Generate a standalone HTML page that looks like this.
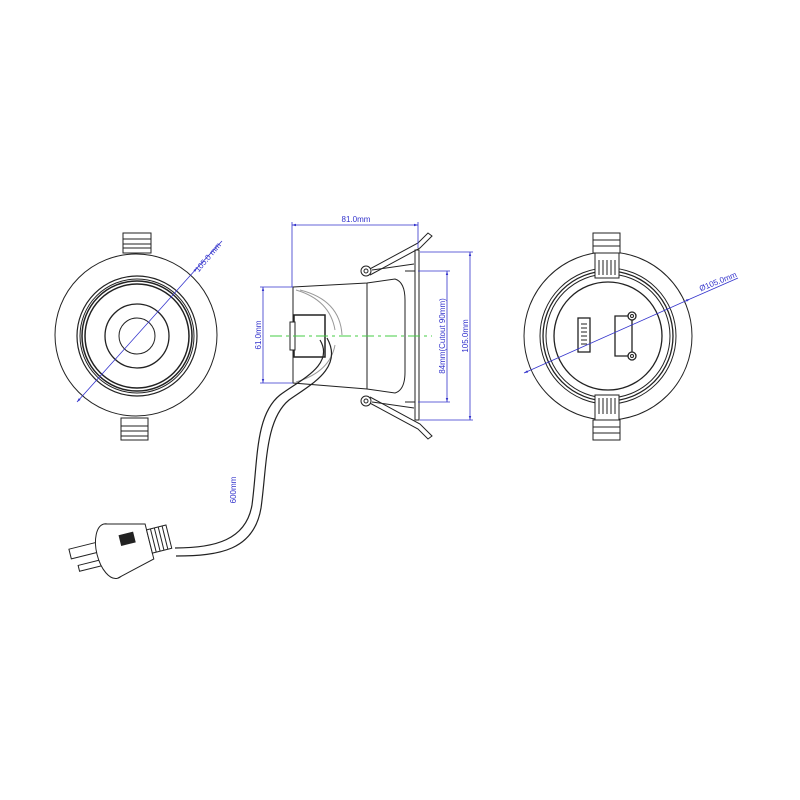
<!DOCTYPE html>
<html><head><meta charset="utf-8"><style>html,body{margin:0;padding:0;background:#fff}svg{display:block}</style></head>
<body>
<svg width="800" height="800" viewBox="0 0 800 800" xmlns="http://www.w3.org/2000/svg" font-family="Liberation Sans, sans-serif">
<defs>
<marker id="a" viewBox="0 0 10 10" refX="10" refY="5" markerWidth="5" markerHeight="5" orient="auto-start-reverse"><path d="M0,2 L10,5 L0,8 z" fill="#3333cc"/></marker>
</defs>
<rect width="800" height="800" fill="#fff"/>
<g fill="none" stroke="#222" stroke-width="1">
<!-- LEFT VIEW -->
<rect x="123" y="233" width="28" height="20" fill="#fff"/>
<line x1="123" y1="239" x2="151" y2="239"/><line x1="123" y1="244" x2="151" y2="244"/><line x1="123" y1="248" x2="151" y2="248"/>
<rect x="121" y="418" width="27" height="22" fill="#fff"/>
<line x1="121" y1="426" x2="148" y2="426"/><line x1="121" y1="431" x2="148" y2="431"/><line x1="121" y1="436" x2="148" y2="436"/>
<circle cx="136" cy="335" r="81" fill="#fff"/>
<circle cx="137" cy="336" r="60" stroke-width="1.2"/>
<circle cx="137" cy="336" r="57"/>
<circle cx="137" cy="336" r="55" stroke-width="1.5"/>
<circle cx="137" cy="336" r="52" stroke-width="1.5"/>
<circle cx="137" cy="336" r="32" stroke-width="1.3"/>
<circle cx="137" cy="336" r="18"/>
<!-- MIDDLE VIEW -->
<path d="M293,287 L367,283 L395,279 Q405,282 405,300 L405,372 Q405,390 395,393 L367,389 L293,383 Z" fill="#fff"/>
<line x1="367" y1="283" x2="367" y2="389"/>
<path d="M296,290 Q330,300 335,330" stroke="#999"/>
<path d="M300,290 Q340,300 342,335" stroke="#999"/>
<path d="M296,382 Q330,372 335,345" stroke="#999"/>
<rect x="415" y="250" width="4" height="170" fill="#fff"/>
<line x1="405" y1="271" x2="415" y2="271"/><line x1="405" y1="402" x2="415" y2="402"/>
<path d="M366,271 L418,243 L428,233 L432,236 L420,248 L370,275"/>
<path d="M366,401 L418,429 L428,439 L432,436 L420,424 L370,397"/>
<line x1="372" y1="270" x2="414" y2="264"/><line x1="372" y1="402" x2="414" y2="408"/>
<circle cx="366" cy="271" r="5" fill="#fff"/><circle cx="366" cy="271" r="2"/>
<circle cx="366" cy="401" r="5" fill="#fff"/><circle cx="366" cy="401" r="2"/>
<rect x="294" y="315" width="31" height="42" fill="#fff" stroke-width="1.5"/>
<rect x="290" y="322" width="5" height="28" fill="#fff"/>
<!-- cable -->
<path d="M320,340 C335,365 300,380 280,395 C255,415 258,460 252,505 C246,540 215,548 175,548" stroke-width="1.2"/>
<path d="M327,338 C344,368 310,385 289,400 C265,420 267,465 261,508 C254,550 220,556 176,556" stroke-width="1.2"/>
<!-- plug -->
<g transform="rotate(-14 115 548)">
<rect x="70" y="538" width="30" height="10" fill="#fff"/>
<rect x="75" y="556" width="25" height="6" fill="#fff"/>
<ellipse cx="110" cy="550" rx="14" ry="28" fill="#fff"/>
<path d="M110,522 L150,532 L150,568 L110,578" fill="#fff"/>
<rect x="122" y="537" width="14" height="10" fill="#222"/>
<rect x="150" y="538" width="20" height="24" fill="#fff"/>
<line x1="154" y1="538" x2="154" y2="562"/><line x1="158" y1="538" x2="158" y2="562"/><line x1="162" y1="538" x2="162" y2="562"/><line x1="166" y1="538" x2="166" y2="562"/>
</g>
<!-- RIGHT VIEW -->
<circle cx="608" cy="336" r="84" fill="#fff"/>
<circle cx="608" cy="336" r="68"/>
<circle cx="608" cy="336" r="65" stroke-width="1.3"/>
<circle cx="608" cy="336" r="62"/>
<circle cx="608" cy="336" r="54" stroke-width="1.3"/>
<rect x="593" y="233" width="27" height="20" fill="#fff"/>
<line x1="593" y1="240" x2="620" y2="240"/><line x1="593" y1="246" x2="620" y2="246"/>
<rect x="595" y="253" width="24" height="25" fill="#fff"/>
<line x1="599" y1="260" x2="599" y2="275"/><line x1="603" y1="260" x2="603" y2="275"/><line x1="607" y1="260" x2="607" y2="275"/><line x1="611" y1="260" x2="611" y2="275"/><line x1="615" y1="260" x2="615" y2="275"/>
<rect x="595" y="395" width="24" height="25" fill="#fff"/>
<line x1="599" y1="398" x2="599" y2="414"/><line x1="603" y1="398" x2="603" y2="414"/><line x1="607" y1="398" x2="607" y2="414"/><line x1="611" y1="398" x2="611" y2="414"/><line x1="615" y1="398" x2="615" y2="414"/>
<rect x="593" y="420" width="27" height="20" fill="#fff"/>
<line x1="593" y1="427" x2="620" y2="427"/><line x1="593" y1="433" x2="620" y2="433"/>
<rect x="578" y="318" width="12" height="34" stroke-width="1.3"/>
<line x1="581" y1="324" x2="587" y2="324"/><line x1="581" y1="328" x2="587" y2="328"/><line x1="581" y1="332" x2="587" y2="332"/><line x1="581" y1="336" x2="587" y2="336"/><line x1="581" y1="340" x2="587" y2="340"/><line x1="581" y1="344" x2="587" y2="344"/>
<path d="M628,316 L615,316 L615,356 L628,356 M632,320 L632,352" stroke-width="1.3"/>
<circle cx="632" cy="316" r="4" stroke-width="1.3" fill="#fff"/><circle cx="632" cy="316" r="1.5"/>
<circle cx="632" cy="356" r="4" stroke-width="1.3" fill="#fff"/><circle cx="632" cy="356" r="1.5"/>
</g>
<!-- dimensions -->
<g stroke="#3333cc" stroke-width="0.8" fill="none">
<line x1="77" y1="402" x2="197" y2="268" marker-start="url(#a)" marker-end="url(#a)"/>
<line x1="197" y1="268" x2="222" y2="241"/>
<line x1="292" y1="287" x2="292" y2="222"/>
<line x1="418" y1="248" x2="418" y2="222"/>
<line x1="292" y1="225" x2="418" y2="225" marker-start="url(#a)" marker-end="url(#a)"/>
<line x1="263" y1="287" x2="263" y2="383" marker-start="url(#a)" marker-end="url(#a)"/>
<line x1="260" y1="287" x2="293" y2="287"/><line x1="260" y1="383" x2="293" y2="383"/>
<line x1="447" y1="271" x2="447" y2="402" marker-start="url(#a)" marker-end="url(#a)"/>
<line x1="418" y1="271" x2="450" y2="271"/><line x1="418" y1="402" x2="450" y2="402"/>
<line x1="470" y1="252" x2="470" y2="420" marker-start="url(#a)" marker-end="url(#a)"/>
<line x1="420" y1="252" x2="473" y2="252"/><line x1="420" y1="420" x2="473" y2="420"/>
<line x1="524" y1="373" x2="690" y2="299" marker-start="url(#a)" marker-end="url(#a)"/>
<line x1="690" y1="299" x2="738" y2="278"/>
</g>
<line x1="270" y1="336" x2="432" y2="336" stroke="#44cc44" stroke-width="1" stroke-dasharray="12,4,3,4"/>
<g fill="#3333cc" font-size="8">
<text x="356" y="222" text-anchor="middle">81.0mm</text>
<text transform="translate(210,259) rotate(-50)" text-anchor="middle">105.0 mm</text>
<text transform="translate(261,335) rotate(-90)" text-anchor="middle">61.0mm</text>
<text transform="translate(445,336) rotate(-90)" text-anchor="middle">84mm(Cutout  90mm)</text>
<text transform="translate(468,336) rotate(-90)" text-anchor="middle">105.0mm</text>
<text transform="translate(719,284) rotate(-22)" text-anchor="middle">Ø105.0mm</text>
<text transform="translate(236,490) rotate(-90)" text-anchor="middle">600mm</text>
</g>
</svg>
</body></html>
